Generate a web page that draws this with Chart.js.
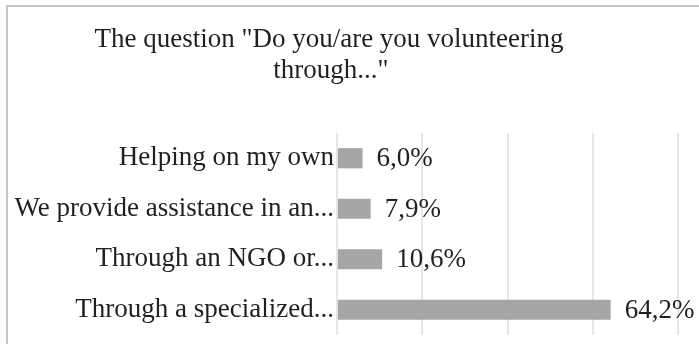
<!DOCTYPE html>
<html>
<head>
<meta charset="utf-8">
<script src="https://cdn.jsdelivr.net/npm/chart.js@4.4.1/dist/chart.umd.min.js"></script>
<style>
  body { margin: 0; background: #fff; }
  #wrap { position: relative; width: 699px; height: 344px; }
  #frame {
    position: absolute; left: 6px; top: 5px; right: -10px; bottom: -10px;
    border-left: 2px solid #c6c6ca; border-top: 2px solid #c6c6ca;
    pointer-events: none;
  }
</style>
</head>
<body>
<div id="wrap">
  <canvas id="chart" width="699" height="344"></canvas>
  <div id="frame"></div>
</div>
<script>
// Chart data
const titleLines = ['The question "Do you/are you volunteering', 'through..."'];
const categories = ['Helping on my own', 'We provide assistance in an...', 'Through an NGO or...', 'Through a specialized...'];
const values = [6.0, 7.9, 10.6, 64.2];
const valueLabels = ['6,0%', '7,9%', '10,6%', '64,2%'];
const axisMax = 80;
const axisStep = 20;

const serif = '"Liberation Serif", "Times New Roman", serif';
const textColor = '#231f20';

// draws the title and the value labels next to each bar
const extraText = {
    id: 'extraText',
    afterDatasetsDraw(chart) {
        const ctx = chart.ctx;
        ctx.save();
        ctx.fillStyle = textColor;
        ctx.font = '27px ' + serif;
        ctx.textAlign = 'center';
        ctx.textBaseline = 'alphabetic';
        ctx.fillText(titleLines[0], 329, 47);
        ctx.fillText(titleLines[1], 331, 78);

        ctx.font = '27px ' + serif;
        ctx.textAlign = 'left';
        ctx.textBaseline = 'middle';
        const meta = chart.getDatasetMeta(0);
        meta.data.forEach((bar, i) => {
            ctx.fillText(valueLabels[i], bar.x + 14, bar.y + 1);
        });
        ctx.restore();
    }
};

new Chart(document.getElementById('chart'), {
    type: 'bar',
    data: {
        labels: categories,
        datasets: [{
            data: values,
            backgroundColor: '#a6a6a9',
            categoryPercentage: 1,
            barPercentage: 0.4
        }]
    },
    options: {
        indexAxis: 'y',
        responsive: false,
        animation: false,
        layout: { padding: { top: 133, bottom: 9, left: 0, right: 21 } },
        plugins: {
            legend: { display: false },
            tooltip: { enabled: false },
            title: { display: false }
        },
        scales: {
            x: {
                min: 0,
                max: axisMax,
                afterFit: (scale) => { scale.height = 0; },
                ticks: { display: false, stepSize: axisStep },
                grid: { color: '#e6e6e6', lineWidth: 2, drawTicks: false },
                border: { display: false }
            },
            y: {
                afterFit: (scale) => {
                    scale.width = 337;
                    scale.paddingTop = 0;
                    scale.paddingBottom = 0;
                },
                ticks: {
                    color: textColor,
                    font: { family: serif, size: 27 },
                    padding: 3
                },
                grid: { display: false, drawTicks: false },
                border: { display: false }
            }
        }
    },
    plugins: [extraText]
});
</script>
</body>
</html>
